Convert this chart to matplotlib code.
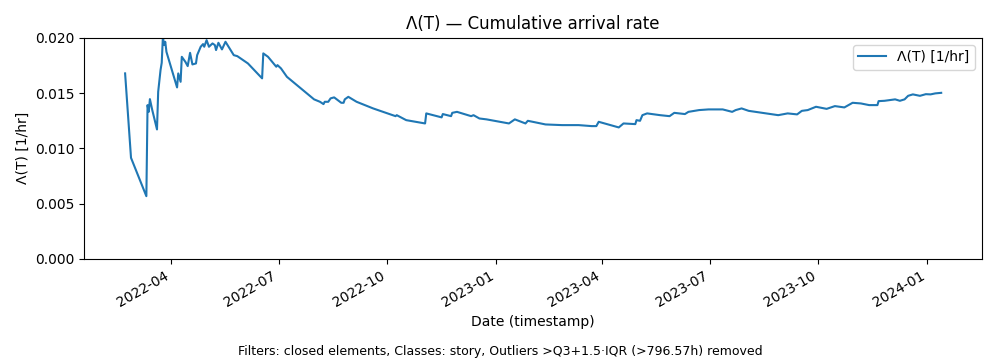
import numpy as np
import pandas as pd
import matplotlib
matplotlib.use('Agg')
import matplotlib.pyplot as plt
import matplotlib.dates as mdates

# 누적 도착률 Λ(T) 데이터
dates = [
    '2022-02-21', '2022-02-26', '2022-03-11', '2022-03-12', '2022-03-13', '2022-03-14',
    '2022-03-16', '2022-03-20', '2022-03-21', '2022-03-23', '2022-03-24', '2022-03-25',
    '2022-03-26', '2022-03-27', '2022-03-28', '2022-04-06', '2022-04-07', '2022-04-09',
    '2022-04-10', '2022-04-13', '2022-04-15', '2022-04-17', '2022-04-19', '2022-04-22',
    '2022-04-23', '2022-04-26', '2022-04-28', '2022-04-29', '2022-05-01', '2022-05-03',
    '2022-05-06', '2022-05-08', '2022-05-09', '2022-05-11', '2022-05-14', '2022-05-17',
    '2022-05-24', '2022-05-27', '2022-06-05', '2022-06-17', '2022-06-18', '2022-06-22',
    '2022-06-29', '2022-06-30', '2022-07-03', '2022-07-08', '2022-07-31', '2022-08-05',
    '2022-08-08', '2022-08-09', '2022-08-12', '2022-08-14', '2022-08-17', '2022-08-23',
    '2022-08-25', '2022-08-26', '2022-08-29', '2022-09-05', '2022-09-19', '2022-10-08',
    '2022-10-09', '2022-10-17', '2022-11-02', '2022-11-03', '2022-11-16', '2022-11-17',
    '2022-11-24', '2022-11-25', '2022-11-29', '2022-12-11', '2022-12-13', '2022-12-18',
    '2022-12-24', '2023-01-12', '2023-01-17', '2023-01-26', '2023-01-28', '2023-02-12',
    '2023-02-26', '2023-03-12', '2023-03-23', '2023-03-27', '2023-03-29', '2023-04-15',
    '2023-04-19', '2023-04-29', '2023-04-30', '2023-05-03', '2023-05-05', '2023-05-09',
    '2023-05-20', '2023-05-28', '2023-06-01', '2023-06-10', '2023-06-13', '2023-06-22',
    '2023-06-30', '2023-07-12', '2023-07-20', '2023-07-23', '2023-07-28', '2023-08-03',
    '2023-08-28', '2023-09-05', '2023-09-13', '2023-09-17', '2023-09-22', '2023-09-29',
    '2023-10-08', '2023-10-15', '2023-10-23', '2023-10-30', '2023-11-06', '2023-11-13',
    '2023-11-20', '2023-11-21', '2023-11-26', '2023-12-05', '2023-12-09', '2023-12-13',
    '2023-12-16', '2023-12-20', '2023-12-26', '2023-12-31', '2024-01-04', '2024-01-08',
    '2024-01-13',
]
rate = [
    0.01678, 0.00914, 0.00567, 0.01391, 0.01330, 0.01445,
    0.01346, 0.01171, 0.01511, 0.01708, 0.01774, 0.02010,
    0.01934, 0.01964, 0.01873, 0.01551, 0.01678, 0.01602,
    0.01828, 0.01783, 0.01744, 0.01864, 0.01759, 0.01768,
    0.01843, 0.01919, 0.01943, 0.01919, 0.01979, 0.01919,
    0.01949, 0.01934, 0.01889, 0.01955, 0.01895, 0.01964,
    0.01843, 0.01834, 0.01768, 0.01633, 0.01859, 0.01828,
    0.01738, 0.01753, 0.01723, 0.01647, 0.01443, 0.01421,
    0.01400, 0.01421, 0.01421, 0.01452, 0.01461, 0.01412,
    0.01412, 0.01443, 0.01466, 0.01421, 0.01361, 0.01291,
    0.01300, 0.01255, 0.01225, 0.01316, 0.01280, 0.01310,
    0.01291, 0.01321, 0.01330, 0.01291, 0.01300, 0.01270,
    0.01262, 0.01225, 0.01262, 0.01225, 0.01249, 0.01216,
    0.01210, 0.01210, 0.01201, 0.01201, 0.01240, 0.01189,
    0.01225, 0.01219, 0.01255, 0.01249, 0.01300, 0.01316,
    0.01300, 0.01291, 0.01321, 0.01310, 0.01330, 0.01346,
    0.01352, 0.01352, 0.01330, 0.01346, 0.01361, 0.01339,
    0.01300, 0.01316, 0.01307, 0.01339, 0.01346, 0.01376,
    0.01357, 0.01382, 0.01370, 0.01412, 0.01406, 0.01391,
    0.01391, 0.01427, 0.01430, 0.01443, 0.01430, 0.01443,
    0.01475, 0.01488, 0.01475, 0.01490, 0.01488, 0.01497,
    0.01502,
]

caption = 'Filters: closed elements, Classes: story, Outliers >Q3+1.5·IQR (>796.57h) removed'

t = pd.to_datetime(dates)

fig, ax = plt.subplots(figsize=(10, 3.6), dpi=100)
ax.plot(t, rate, color='tab:blue', linewidth=1.5, label='Λ(T) [1/hr]')

ax.set_ylim(0, 0.020)
ax.set_yticks([0.000, 0.005, 0.010, 0.015, 0.020])
ax.set_title('Λ(T) — Cumulative arrival rate')
ax.set_xlabel('Date (timestamp)')
ax.set_ylabel('Λ(T) [1/hr]')
ax.legend(loc='upper right')

ax.xaxis.set_major_locator(mdates.MonthLocator(bymonth=[1, 4, 7, 10]))
ax.xaxis.set_major_formatter(mdates.DateFormatter('%Y-%m'))
for lbl in ax.get_xticklabels():
    lbl.set_rotation(30)
    lbl.set_ha('right')

fig.subplots_adjust(left=0.0843, right=0.982, top=0.895, bottom=0.281)
fig.text(0.5, 0.025, caption, ha='center', va='center', fontsize=9)

fig.savefig('out.png', dpi=100)
